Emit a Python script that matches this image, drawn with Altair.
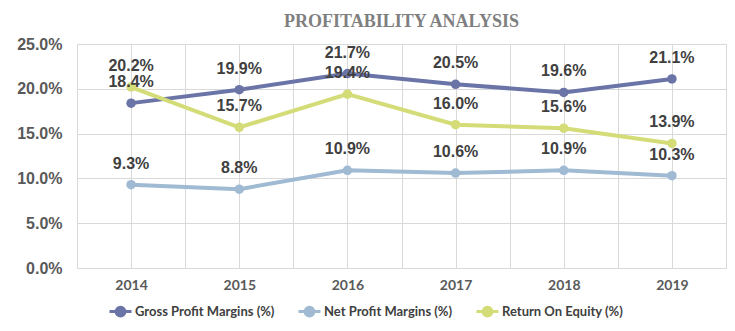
import altair as alt
import pandas as pd

years = [2014, 2015, 2016, 2017, 2018, 2019]
series_names = ["Gross Profit Margins (%)", "Net Profit Margins (%)", "Return On Equity (%)"]
gross = [18.4, 19.9, 21.7, 20.5, 19.6, 21.1]
net = [9.3, 8.8, 10.9, 10.6, 10.9, 10.3]
roe = [20.2, 15.7, 19.4, 16.0, 15.6, 13.9]
colors = ["#6a74a6", "#9fbad2", "#d4dc78"]

rows = []
for name, vals in zip(series_names, [gross, net, roe]):
    for y, v in zip(years, vals):
        rows.append({"Year": y, "Series": name, "Value": v / 100.0})
df = pd.DataFrame(rows)

x_vals = [2013.5 + 0.5 * i for i in range(13)]

x = alt.X("Year:Q", scale=alt.Scale(domain=[2013.5, 2019.5], nice=False, zero=False),
          axis=alt.Axis(values=x_vals, title=None, ticks=False, grid=True,
                        labelExpr="datum.value % 1 == 0 ? format(datum.value, 'd') : ''",
                        labelFont="Lato", labelFontSize=14, labelFontWeight="bold",
                        labelColor="#595959", labelPadding=10, domainColor="#d9d9d9",
                        gridColor="#d9d9d9"))
y = alt.Y("Value:Q", scale=alt.Scale(domain=[0, 0.25], nice=False),
          axis=alt.Axis(values=[0, 0.05, 0.10, 0.15, 0.20, 0.25], format=".1%", title=None,
                        ticks=False, domain=False, grid=True, gridColor="#d9d9d9",
                        labelFont="Liberation Sans", labelFontSize=16, labelFontWeight="bold",
                        labelColor="#595959", labelPadding=15))

sym = "M-1,0H1M-0.4,0a0.4,0.4 0 1,0 0.8,0a0.4,0.4 0 1,0 -0.8,0"
color = alt.Color("Series:N", scale=alt.Scale(domain=series_names, range=colors),
                  legend=alt.Legend(title=None, orient="none", direction="horizontal",
                                    legendX=31, legendY=255, symbolType=sym, symbolSize=484,
                                    symbolStrokeWidth=3, labelFont="Lato", labelFontSize=13,
                                    labelFontWeight="bold", labelColor="#404040",
                                    labelOffset=2, columnPadding=17))

base = alt.Chart(df)
lines = base.mark_line(strokeWidth=4).encode(x=x, y=y, color=color)
points = base.mark_point(filled=True, size=90, opacity=1).encode(x=x, y=y, color=color)
labels = base.mark_text(font="Liberation Sans", fontSize=16, fontWeight="bold",
                        color="#404040", baseline="middle", dy=-21).encode(
    x=x, y=y, text=alt.Text("Value:Q", format=".1%"))

chart = alt.layer(lines, points, labels).properties(
    width=649, height=224,
    title=alt.TitleParams("PROFITABILITY ANALYSIS", font="Liberation Serif",
                          fontSize=18, fontWeight="bold", color="#7f7f7f", offset=5,
                          anchor="middle"),
    autosize=alt.AutoSizeParams(type="none"),
    padding={"left": 77, "top": 44, "right": 9, "bottom": 63},
).configure_view(fill="#efefef", stroke="#d9d9d9").configure(background="white")

chart.save("out.html", embed_options={"renderer": "svg", "actions": False})
